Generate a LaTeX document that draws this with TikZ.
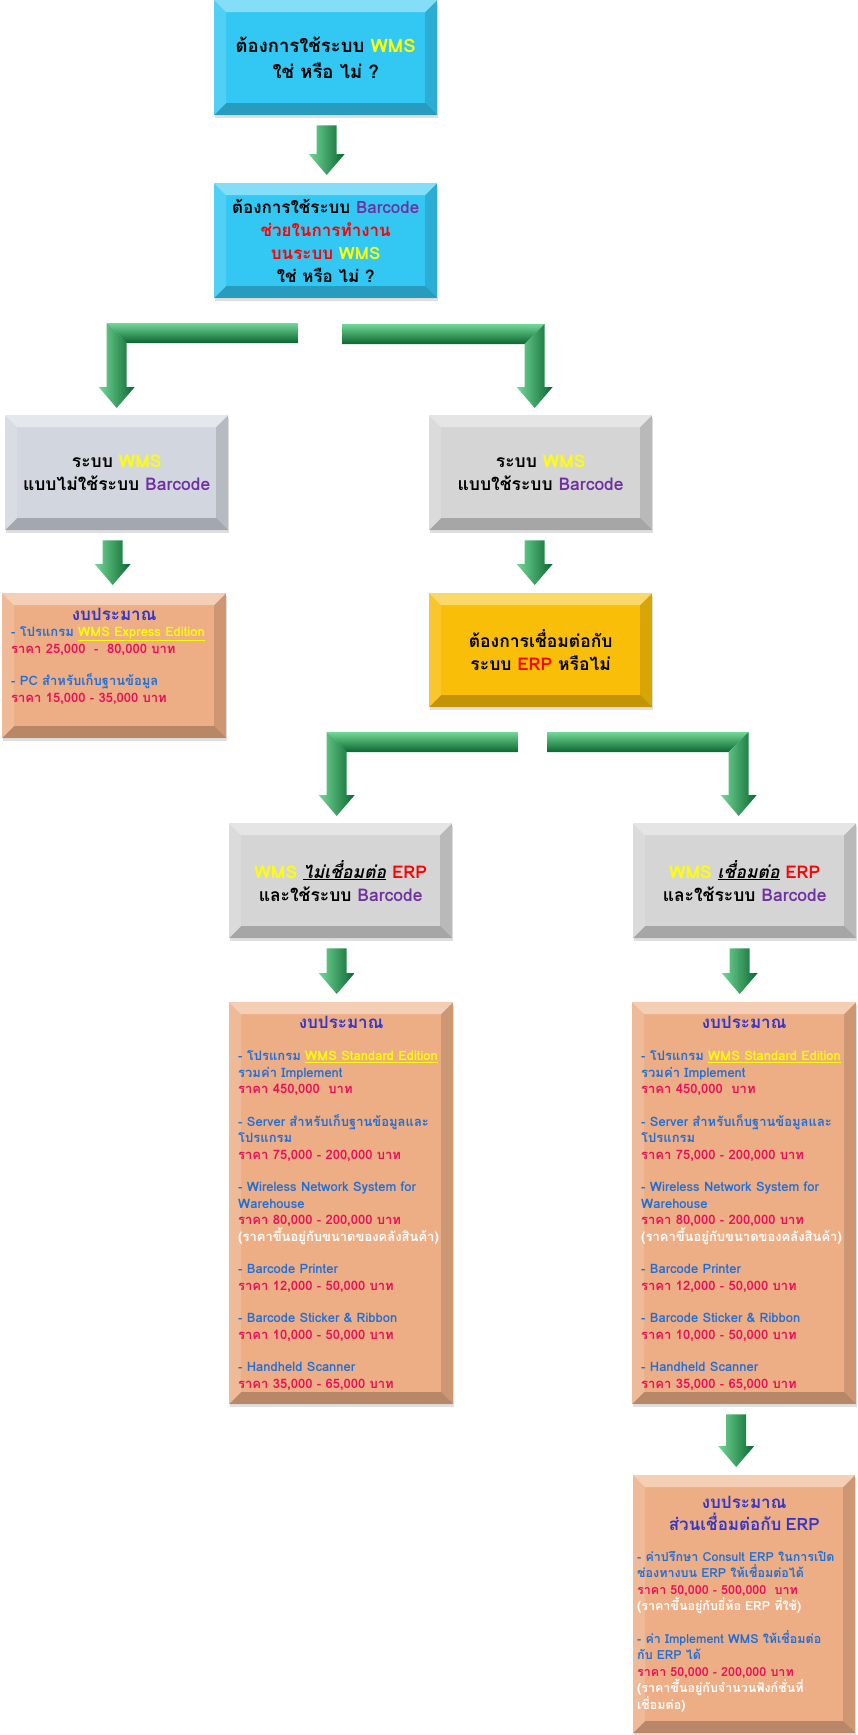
\documentclass[tikz,border=0pt]{standalone}
\usepackage{fontspec}
\usepackage{xcolor}
\usepackage{tikz}
\usetikzlibrary{calc,shadows}
\newfontfamily\thaifont[Script=Thai]{Loma}
\definecolor{skyblue}{HTML}{33C8F4}
\definecolor{boxgrey}{HTML}{D5D5D5}
\definecolor{boxgreyblue}{HTML}{D2D7DF}
\definecolor{peach}{HTML}{EDAE85}
\definecolor{goldbox}{HTML}{F9BE08}
\definecolor{wmsyellow}{HTML}{FFFF00}
\definecolor{bcpurple}{HTML}{7030A0}
\definecolor{erpred}{HTML}{FF0000}
\definecolor{headblue}{HTML}{3535C8}
\definecolor{itemblue}{HTML}{1F6FD8}
\definecolor{pricered}{HTML}{E8105A}
\definecolor{arrowlt}{HTML}{72D896}
\definecolor{arrowmd}{HTML}{25A555}
\definecolor{arrowdk}{HTML}{0B6630}
\newcommand{\wms}{\textcolor{wmsyellow}{WMS}}
\newcommand{\bcode}{\textcolor{bcpurple}{Barcode}}
\newcommand{\erp}{\textcolor{erpred}{ERP}}
\newcommand{\bgthead}[1]{{\color{headblue}\fontsize{17}{20}\selectfont #1}}
\newcommand{\bgtitem}[1]{{\color{itemblue}#1}}
\newcommand{\bgtprice}[1]{{\color{pricered}#1}}
\newcommand{\bgtnote}[1]{{\color{white}#1}}
\newcommand{\hiyellow}[1]{\textcolor{wmsyellow}{\underline{#1}}}
% straight green block arrow from one box down to the next ([x offset])
\newcommand{\fatarrow}[3][0]{%
  \coordinate (fa-t) at ($(#2.south)+(#1,10)$);
  \coordinate (fa-h) at ($(#2.south |- #3.north)+(#1,-8)$);
  \shade[left color=arrowlt, middle color=arrowmd, right color=arrowdk]
    ($(fa-t)+(-10,0)$) -- ($(fa-t)+(10,0)$) -- ($(fa-h)+(10,-21)$)
    -- ($(fa-h)+(18,-21)$) -- (fa-h) -- ($(fa-h)+(-18,-21)$)
    -- ($(fa-h)+(-10,-21)$) -- cycle;
}
% bent green arrow: [x offset], free end, target box, side (1 = bends left, -1 = bends right)
\newcommand{\elbowarrow}[4][0]{%
  \coordinate (ea-h) at ($(#3.north)+(#1,-7)$);
  \coordinate (ea-c) at (ea-h |- #2);
  \shade[top color=arrowlt, middle color=arrowmd, bottom color=arrowdk]
    ($(#2)+(0,-10)$) -- ($(ea-c)+({-10*#4},-10)$) -- ($(ea-c)+({10*#4},10)$)
    -- ($(#2)+(0,10)$) -- cycle;
  \shade[left color=arrowlt, middle color=arrowmd, right color=arrowdk]
    ($(ea-c)+({-10*#4},-10)$) -- ($(ea-c)+({10*#4},10)$)
    -- ($(ea-h)+({10*#4},-21)$) -- ($(ea-h)+({18*#4},-21)$) -- (ea-h)
    -- ($(ea-h)+({-18*#4},-21)$) -- ($(ea-h)+({-10*#4},-21)$) -- cycle;
}
\tikzset{
  bevel/.style={fill=#1,
    drop shadow={shadow xshift=1pt, shadow yshift=-3pt, opacity=.25},
    path picture={
      \coordinate (bv-nw) at (path picture bounding box.north west);
      \coordinate (bv-ne) at (path picture bounding box.north east);
      \coordinate (bv-sw) at (path picture bounding box.south west);
      \coordinate (bv-se) at (path picture bounding box.south east);
      \fill[white,opacity=.4] (bv-nw) -- (bv-ne) -- ($(bv-ne)+(-12pt,-12pt)$)
        -- ($(bv-nw)+(12pt,-12pt)$) -- cycle;
      \fill[white,opacity=.15] (bv-nw) -- ($(bv-nw)+(12pt,-12pt)$)
        -- ($(bv-sw)+(12pt,12pt)$) -- (bv-sw) -- cycle;
      \fill[black,opacity=.13] (bv-ne) -- (bv-se) -- ($(bv-se)+(-12pt,12pt)$)
        -- ($(bv-ne)+(-12pt,-12pt)$) -- cycle;
      \fill[black,opacity=.22] (bv-sw) -- ($(bv-sw)+(12pt,12pt)$)
        -- ($(bv-se)+(-12pt,12pt)$) -- (bv-se) -- cycle;
    }},
  titlebox/.style={bevel=#1, anchor=north west, align=center, inner sep=0pt,
    minimum width=223pt, minimum height=115pt,
    font=\thaifont\bfseries\fontsize{17.5}{23}\selectfont},
  budgetbox/.style={bevel=peach, anchor=north west, align=left, inner xsep=9pt,
    inner ysep=0pt, text width=#1,
    font=\thaifont\bfseries\fontsize{13}{16.5}\selectfont},
}
\begin{document}
\begin{tikzpicture}[x=1pt,y=-1pt]
  \useasboundingbox (0,0) rectangle (858,1735);
  % questions and choices
  \node[titlebox=skyblue, font=\thaifont\bfseries\fontsize{18.5}{26}\selectfont]
    (want) at (214,0) {ต้องการใช้ระบบ \wms\\ใช่ หรือ ไม่ ?};
  \node[titlebox=skyblue, font=\thaifont\bfseries\fontsize{17}{23}\selectfont]
    (barcodeq) at (214,183)
    {ต้องการใช้ระบบ \bcode\\\textcolor{erpred}{ช่วยในการทำงาน}\\
     \textcolor{erpred}{บนระบบ} \wms\\ใช่ หรือ ไม่ ?};
  \node[titlebox=boxgreyblue] (nobc) at (5,415)
    {ระบบ \wms\\แบบไม่ใช้ระบบ \bcode};
  \node[titlebox=boxgrey] (withbc) at (429,415)
    {ระบบ \wms\\แบบใช้ระบบ \bcode};
  \node[titlebox=goldbox, minimum height=114pt] (erpq) at (429,593)
    {ต้องการเชื่อมต่อกับ\\ระบบ \erp{} หรือไม่};
  \node[titlebox=boxgrey] (noerp) at (229,823)
    {\wms{} \underline{\itshape ไม่เชื่อมต่อ} \erp\\และใช้ระบบ \bcode};
  \node[titlebox=boxgrey] (witherp) at (633,823)
    {\wms{} \underline{\itshape เชื่อมต่อ} \erp\\และใช้ระบบ \bcode};
  % budget boxes
  \node[budgetbox=206pt, minimum height=145pt] (budgetA) at (2,593)
    {\null\hfill\bgthead{งบประมาณ}\hfill\null\\
     \bgtitem{- โปรแกรม \hiyellow{WMS Express Edition}}\\
     \bgtprice{ราคา 25,000 \ - \ 80,000 บาท}\\[16pt]
     \bgtitem{- PC สำหรับเก็บฐานข้อมูล}\\
     \bgtprice{ราคา 15,000 - 35,000 บาท}\\[5pt]\null};
  \foreach \bname/\bx in {budgetB/229, budgetC/632}
    \node[budgetbox=206pt, minimum height=402pt] (\bname) at (\bx,1002)
      {\null\hfill\bgthead{งบประมาณ}\hfill\null\\[16pt]
       \bgtitem{- โปรแกรม \hiyellow{WMS Standard Edition}}\\
       \bgtitem{รวมค่า Implement}\\
       \bgtprice{ราคา 450,000 \ บาท}\\[16pt]
       \bgtitem{- Server สำหรับเก็บฐานข้อมูลและ}\\
       \bgtitem{โปรแกรม}\\
       \bgtprice{ราคา 75,000 - 200,000 บาท}\\[16pt]
       \bgtitem{- Wireless Network System for}\\
       \bgtitem{Warehouse}\\
       \bgtprice{ราคา 80,000 - 200,000 บาท}\\
       \bgtnote{(ราคาขึ้นอยู่กับขนาดของคลังสินค้า)}\\[16pt]
       \bgtitem{- Barcode Printer}\\
       \bgtprice{ราคา 12,000 - 50,000 บาท}\\[16pt]
       \bgtitem{- Barcode Sticker \& Ribbon}\\
       \bgtprice{ราคา 10,000 - 50,000 บาท}\\[16pt]
       \bgtitem{- Handheld Scanner}\\
       \bgtprice{ราคา 35,000 - 65,000 บาท}};
  \node[budgetbox=214pt, inner xsep=4pt, minimum height=258pt,
    font=\thaifont\bfseries\fontsize{12.5}{16.5}\selectfont] (budgetD) at (633,1475)
    {\null\hfill\bgthead{งบประมาณ}\hfill\null\\[-13pt]
     \null\hfill\bgthead{ส่วนเชื่อมต่อกับ ERP}\hfill\null\\[14pt]
     \bgtitem{- ค่าปรึกษา Consult ERP ในการเปิด}\\
     \bgtitem{ช่องทางบน ERP ให้เชื่อมต่อได้}\\
     \bgtprice{ราคา 50,000 - 500,000 \ บาท}\\
     \bgtnote{(ราคาขึ้นอยู่กับยี่ห้อ ERP ที่ใช้)}\\[16pt]
     \bgtitem{- ค่า Implement WMS ให้เชื่อมต่อ}\\
     \bgtitem{กับ ERP ได้}\\
     \bgtprice{ราคา 50,000 - 200,000 บาท}\\
     \bgtnote{(ราคาขึ้นอยู่กับจำนวนฟังก์ชั่นที่}\\
     \bgtnote{เชื่อมต่อ)}};
  % green arrows
  \fatarrow[1]{want}{barcodeq}
  \fatarrow[-4]{nobc}{budgetA}
  \fatarrow[-6]{withbc}{erpq}
  \fatarrow[-4]{noerp}{budgetB}
  \fatarrow[-5]{witherp}{budgetC}
  \fatarrow[-8]{budgetC}{budgetD}
  \coordinate (split1l) at (298,333);
  \coordinate (split1r) at (342,334);
  \coordinate (split2l) at (518,742);
  \coordinate (split2r) at (547,742);
  \elbowarrow{split1l}{nobc}{1}
  \elbowarrow[-6]{split1r}{withbc}{-1}
  \elbowarrow[-4]{split2l}{noerp}{1}
  \elbowarrow[-6]{split2r}{witherp}{-1}
\end{tikzpicture}
\end{document}
